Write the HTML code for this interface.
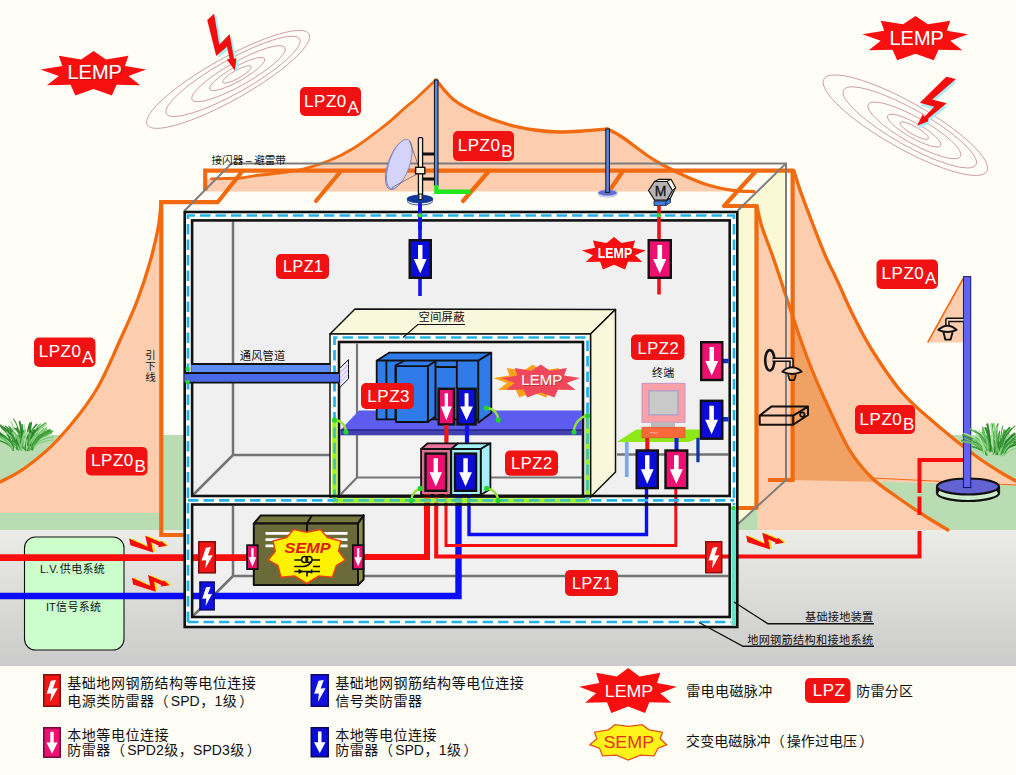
<!DOCTYPE html>
<html lang="zh">
<head>
<meta charset="utf-8">
<title>LPZ lightning protection zones</title>
<style>
html,body{margin:0;padding:0;background:#fefef6}
body{width:1016px;height:775px;overflow:hidden;font-family:"Liberation Sans","Noto Sans CJK SC",sans-serif}
svg{display:block}
svg text{font-family:"Liberation Sans","Noto Sans CJK SC",sans-serif}
</style>
</head>
<body>
<svg width="1016" height="775" viewBox="0 0 1016 775">
<defs>
<linearGradient id="gnd" x1="0" y1="0" x2="0" y2="1"><stop offset="0" stop-color="#ebebe7"/><stop offset="1" stop-color="#cbcbcb"/></linearGradient>
</defs>
<rect width="1016" height="775" fill="#fefef6"/>
<rect y="435" width="1016" height="96" fill="#b9dcb3"/>
<rect y="530" width="1016" height="137" fill="url(#gnd)"/>
<rect y="666" width="1016" height="109" fill="#fdfdf6"/>
<g fill="none" stroke="#c98f9c" stroke-width=".8"><ellipse cx="228.1" cy="79.4" rx="92.8" ry="21" transform="rotate(-29.3 228.1 79.4)"/><ellipse cx="233" cy="76.4" rx="76.4" ry="16.8" transform="rotate(-29.3 233 76.4)"/><ellipse cx="238.5" cy="73.7" rx="53.3" ry="11.8" transform="rotate(-29.3 238.5 73.7)"/><ellipse cx="237.2" cy="74" rx="31.4" ry="7.2" transform="rotate(-29.3 237.2 74)"/><ellipse cx="237" cy="74.4" rx="16.4" ry="4" transform="rotate(-29.3 237 74.4)"/></g>
<g fill="none" stroke="#c98f9c" stroke-width=".8"><ellipse cx="905.4" cy="125.2" rx="93.6" ry="23" transform="rotate(29.5 905.4 125.2)"/><ellipse cx="909.8" cy="127.4" rx="76" ry="18" transform="rotate(29.5 909.8 127.4)"/><ellipse cx="914.4" cy="130.4" rx="53" ry="12.8" transform="rotate(29.5 914.4 130.4)"/><ellipse cx="914.2" cy="130.6" rx="30.5" ry="7.5" transform="rotate(29.5 914.2 130.6)"/><ellipse cx="914.2" cy="130.6" rx="16.3" ry="4" transform="rotate(29.5 914.2 130.6)"/></g>
<polygon points="738,211 786,163.4 786,480 738,524" fill="#fbf8d6"/>
<path d="M161 203C160.55 207 160.13 217.17 158.3 227C156.47 236.83 153.47 249.83 150 262C146.53 274.17 142.33 287.33 137.5 300C132.67 312.67 128.08 322.67 121 338C113.92 353.33 105.58 375 95 392C84.42 409 69.17 427.33 57.5 440C45.83 452.67 34.58 461 25 468C15.42 475 4.17 479.67 0 482L0 513L161 513Z" fill="#fccdae" fill-opacity="1"/>
<path d="M206 179C211.67 178.83 232 178.53 240 178C248 177.47 247.5 176.63 254 175.8C260.5 174.97 270.67 174.17 279 173C287.33 171.83 295.67 170.83 304 168.8C312.33 166.77 320.67 164.27 329 160.8C337.33 157.33 345.67 153.13 354 148C362.33 142.87 372.75 134.67 379 130C385.25 125.33 387.33 123.53 391.5 120C395.67 116.47 399.83 112.42 404 108.8C408.17 105.18 412.33 102.05 416.5 98.3C420.67 94.55 425.75 89.35 429 86.3C432.25 83.25 434.83 81.05 436 80C439 83.33 446.83 94.33 454 100C461.17 105.67 470 109.92 479 114C488 118.08 498.67 121.83 508 124.5C517.33 127.17 526.67 128.75 535 130C543.33 131.25 550 131.83 558 132C566 132.17 574.75 131.5 583 131C591.25 130.5 603.42 129.33 607.5 129C609.67 130.17 616.25 133.33 620.5 136C624.75 138.67 628.42 141.67 633 145C637.58 148.33 643 152.67 648 156C653 159.33 657.17 161.83 663 165C668.83 168.17 675.5 171.67 683 175C690.5 178.33 699.67 182.45 708 185C716.33 187.55 725.33 189.2 733 190.3C740.67 191.4 750.5 191.38 754 191.6L736 191.5L206 191.5Z" fill="#fccdae" fill-opacity="1"/>
<path d="M757 206C757.83 209.5 759.33 218.5 762 227C764.67 235.5 769 245.5 773 257C777 268.5 781.67 283 786 296C790.33 309 794.67 322.67 799 335C803.33 347.33 807.5 358.83 812 370C816.5 381.17 819.75 388.67 826 402C832.25 415.33 841.83 437.33 849.5 450C857.17 462.67 864.08 470.17 872 478C879.92 485.83 888.17 490.67 897 497C905.83 503.33 916.5 510.5 925 516C933.5 521.5 944.17 527.67 948 530L757 530Z" fill="#fccdae" fill-opacity="1"/>
<path d="M794 171C795.08 174.4 797.5 182.9 800.5 191.4C803.5 199.9 807.92 211.4 812 222C816.08 232.6 820.83 245.33 825 255C829.17 264.67 832.33 270 837 280C841.67 290 847.17 303.33 853 315C858.83 326.67 863.83 337.08 872 350C880.17 362.92 891.17 380 902 392.5C912.83 405 924.92 414.58 937 425C949.08 435.42 964 447.17 974.5 455C985 462.83 993.08 467.67 1000 472C1006.92 476.33 1013.33 479.5 1016 481L1016 485L793 480Z" fill="#fccdae" fill-opacity="1"/>
<clipPath id="oz"><path d="M794 171C795.08 174.4 797.5 182.9 800.5 191.4C803.5 199.9 807.92 211.4 812 222C816.08 232.6 820.83 245.33 825 255C829.17 264.67 832.33 270 837 280C841.67 290 847.17 303.33 853 315C858.83 326.67 863.83 337.08 872 350C880.17 362.92 891.17 380 902 392.5C912.83 405 924.92 414.58 937 425C949.08 435.42 964 447.17 974.5 455C985 462.83 993.08 467.67 1000 472C1006.92 476.33 1013.33 479.5 1016 481L1016 485L793 480Z"/></clipPath>
<path d="M757 206C757.83 209.5 759.33 218.5 762 227C764.67 235.5 769 245.5 773 257C777 268.5 781.67 283 786 296C790.33 309 794.67 322.67 799 335C803.33 347.33 807.5 358.83 812 370C816.5 381.17 819.75 388.67 826 402C832.25 415.33 841.83 437.33 849.5 450C857.17 462.67 864.08 470.17 872 478C879.92 485.83 888.17 490.67 897 497C905.83 503.33 916.5 510.5 925 516C933.5 521.5 944.17 527.67 948 530L757 530Z" fill="#f0a264" clip-path="url(#oz)"/>
<g fill="none" stroke="#f26a10" stroke-width="3.3" stroke-linecap="round" stroke-linejoin="round">
<path d="M161 203C160.55 207 160.13 217.17 158.3 227C156.47 236.83 153.47 249.83 150 262C146.53 274.17 142.33 287.33 137.5 300C132.67 312.67 128.08 322.67 121 338C113.92 353.33 105.58 375 95 392C84.42 409 69.17 427.33 57.5 440C45.83 452.67 34.58 461 25 468C15.42 475 4.17 479.67 0 482"/>
<path d="M211.4 178.8C216.17 178.67 232.9 178.5 240 178C247.1 177.5 247.5 176.63 254 175.8C260.5 174.97 270.67 174.17 279 173C287.33 171.83 295.67 170.83 304 168.8C312.33 166.77 320.67 164.27 329 160.8C337.33 157.33 345.67 153.13 354 148C362.33 142.87 372.75 134.67 379 130C385.25 125.33 387.33 123.53 391.5 120C395.67 116.47 399.83 112.42 404 108.8C408.17 105.18 412.33 102.05 416.5 98.3C420.67 94.55 425.75 89.35 429 86.3C432.25 83.25 434.83 81.05 436 80" stroke-width="2.8"/>
<path d="M436 80C439 83.33 446.83 94.33 454 100C461.17 105.67 470 109.92 479 114C488 118.08 498.67 121.83 508 124.5C517.33 127.17 526.67 128.75 535 130C543.33 131.25 550 131.83 558 132C566 132.17 574.75 131.5 583 131C591.25 130.5 603.42 129.33 607.5 129"/>
<path d="M607.5 129C609.67 130.17 616.25 133.33 620.5 136C624.75 138.67 628.42 141.67 633 145C637.58 148.33 643 152.67 648 156C653 159.33 657.17 161.83 663 165C668.83 168.17 675.5 171.67 683 175C690.5 178.33 699.67 182.45 708 185C716.33 187.55 725.33 189.2 733 190.3C740.67 191.4 750.5 191.38 754 191.6"/>
<path d="M757 206C757.83 209.5 759.33 218.5 762 227C764.67 235.5 769 245.5 773 257C777 268.5 781.67 283 786 296C790.33 309 794.67 322.67 799 335C803.33 347.33 807.5 358.83 812 370C816.5 381.17 819.75 388.67 826 402C832.25 415.33 841.83 437.33 849.5 450C857.17 462.67 864.08 470.17 872 478C879.92 485.83 888.17 490.67 897 497C905.83 503.33 916.5 510.5 925 516C933.5 521.5 944.17 527.67 948 530"/>
<path d="M794 171C795.08 174.4 797.5 182.9 800.5 191.4C803.5 199.9 807.92 211.4 812 222C816.08 232.6 820.83 245.33 825 255C829.17 264.67 832.33 270 837 280C841.67 290 847.17 303.33 853 315C858.83 326.67 863.83 337.08 872 350C880.17 362.92 891.17 380 902 392.5C912.83 405 924.92 414.58 937 425C949.08 435.42 964 447.17 974.5 455C985 462.83 993.08 467.67 1000 472C1006.92 476.33 1013.33 479.5 1016 481"/>
<path d="M872 478L1016 485" stroke-width="1.1"/>
</g>
<g fill="none" stroke="#f26a10" stroke-width="4.2" stroke-linejoin="miter">
<path d="M205.2 190.7V170.7H794"/>
<path d="M242.5 171L217.7 202.2H161.3V535H184"/>
<path d="M341 171L316 201" stroke-linecap="round"/>
<path d="M489 171L463 201" stroke-linecap="round"/>
<path d="M623 171L608.5 192"/>
<path d="M756 171L724 206H756.5V508H738" stroke-linejoin="round"/>
<path d="M792.6 169V480H768" />
</g>
<g fill="none" stroke="#7d7d7d" stroke-width="2">
<path d="M184.5 210.7L231.5 163.4H786V480L738 524"/>
<path d="M786 163.4L737.6 210.7"/>
</g>
<rect x="184.7" y="212" width="552.6" height="415" fill="#fff"/>
<rect x="192.1" y="220.4" width="537.6" height="275.6" fill="#f0f0f0"/>
<rect x="192.1" y="504.5" width="537.6" height="112.5" fill="#f0f0f0"/>
<g fill="none" stroke="#747474" stroke-width="2.5">
<path d="M233 221.5V455H330M233 455L193 495"/>
<path d="M617 454.5H728.5"/>
<path d="M233 506V576H728.5M233 576L193 616"/>
</g>
<polygon points="330,334 355,309 615.5,309.5 590.5,334" fill="#faf8dc" stroke="#111" stroke-width="1.5" stroke-linejoin="round"/>
<polygon points="590.5,334 615.5,309.5 615.5,472 590.5,497" fill="#faf8dc" stroke="#111" stroke-width="1.5" stroke-linejoin="round"/>
<rect x="330" y="334" width="260.5" height="163" fill="#fff" stroke="#111" stroke-width="1.5"/>
<rect x="339" y="342" width="244" height="154" fill="#f3f3f3" stroke="#111" stroke-width="2.6"/>
<path d="M357 343.5V477.5H582M357 477.5L340.5 494.5" fill="none" stroke="#777" stroke-width="2.2"/>
<polygon points="359,410.5 582,410.5 582,430 340.5,430" fill="#5c5cee"/>
<rect x="340.3" y="429.7" width="241.6" height="5.6" fill="#4141b4"/>
<path d="M340.3 430H582" stroke="#15156a" stroke-width="1"/>
<g stroke="#111" stroke-width="1.8" stroke-linejoin="round">
<polygon points="376.7,360.7 389,352.7 491.3,352.7 478.2,360.7" fill="#2f7bea"/>
<polygon points="478.2,360.7 491.3,352.7 491.3,413 478.2,422.8" fill="#2f7bea"/>
<rect x="376.7" y="360.7" width="101.5" height="58.7" fill="#2f7bea"/>
<path d="M386.4 360.7V419.4M395.4 365.5V419.4M395.4 365.5L404.3 360.7" fill="none"/>
<path d="M435.4 360.7V419M456.8 360.7V388M435.4 367H456.8" fill="none"/>
<polygon points="427.8,366.2 435.4,360.9 435.4,416.5 427.8,422" fill="#2f7bea"/>
<rect x="396" y="366.2" width="31.8" height="55.8" fill="#2f7bea"/>
</g>
<rect x="438.7" y="388.8" width="15.3" height="35.6" fill="#ee1070" stroke="#111" stroke-width="2.4"/>
<polygon points="444.67,393.3 448.03,393.3 448.03,406.6 451.84,406.6 446.35,420.28 440.86,406.6 444.67,406.6" fill="#fff"/>
<rect x="457.5" y="388.8" width="18.1" height="35.6" fill="#0c0cd8" stroke="#111" stroke-width="2.4"/>
<polygon points="464.6,393.3 468.5,393.3 468.5,406.6 472.91,406.6 466.55,420.28 460.19,406.6 464.6,406.6" fill="#fff"/>
<path d="M446.4 425V450" stroke="#f01616" stroke-width="4.2"/>
<path d="M467 425V450" stroke="#1010f0" stroke-width="4.2"/>
<g stroke="#111" stroke-width="1.8" stroke-linejoin="round">
<polygon points="421.1,449 427.6,443.3 458,443.3 451.3,449" fill="#e8749c"/>
<polygon points="451.3,449 458,443.3 490.4,443.3 480.7,449" fill="#a4f2f8"/>
<polygon points="480.7,449 490.4,443.3 490.4,489 480.7,495" fill="#a4f2f8"/>
<rect x="421.1" y="449" width="29.8" height="46" fill="#d9708c"/>
<rect x="451.3" y="449" width="29.4" height="46" fill="#a4f2f8"/>
</g>
<rect x="425.5" y="453.6" width="20.6" height="37.2" fill="#ee1070" stroke="#111" stroke-width="2.4"/>
<polygon points="433.62,458.34 437.99,458.34 437.99,472.2 442.01,472.2 435.8,486.46 429.59,472.2 433.62,472.2" fill="#fff"/>
<rect x="455" y="453.6" width="21.1" height="37.2" fill="#0c0cd8" stroke="#111" stroke-width="2.4"/>
<polygon points="463.32,458.34 467.78,458.34 467.78,472.2 471.9,472.2 465.55,486.46 459.2,472.2 463.32,472.2" fill="#fff"/>
<rect x="24.5" y="537" width="99.5" height="113" rx="11" fill="#ccfecb" stroke="#111" stroke-width="1.1"/>
<g fill="none" stroke-linejoin="miter">
<path d="M0 557.6H247" stroke="#fa0d0d" stroke-width="6.6"/>
<path d="M0 596H458.5V494" stroke="#0c0cf6" stroke-width="6.4"/>
<path d="M364 557H427V494" stroke="#fa0d0d" stroke-width="6"/>
<path d="M436.2 494V556.5H919.5V531" stroke="#fa0d0d" stroke-width="4"/>
<path d="M919.5 515V496.5M919.5 493V460H964" stroke="#fa0d0d" stroke-width="4"/>
<path d="M446 494V545.5H675.8V488" stroke="#fa0d0d" stroke-width="3"/>
<path d="M469 494V534.5H646.5V488" stroke="#0c0cf6" stroke-width="3.4"/>
</g>
<path d="M184.7 540H192.1V612H184.7ZM729.7 545H737.3V570H729.7Z" fill="#fff"/>
<rect x="731.5" y="509" width="5" height="116" fill="#5fe6c4"/>
<rect x="184.7" y="212" width="552.6" height="415" fill="none" stroke="#111" stroke-width="2.6"/>
<path d="M334.5 419V500.5H587.5V414.5" fill="none" stroke="#a8f22c" stroke-width="4.6"/>
<g fill="none" stroke="#22b2e6" stroke-width="2.7" stroke-dasharray="10.5 5"><path d="M188 622V215.5H734V505"/><path d="M188 500.3H734"/><path d="M188 622H731"/><path d="M334.5 500V337.5H587.5V500"/></g>
<path d="M334.5 419V500.5H587.5V414.5" fill="none" stroke="#8cf01e" stroke-opacity=".3" stroke-width="3"/>
<rect x="192.1" y="220.4" width="537.6" height="275.6" fill="none" stroke="#111" stroke-width="2.6"/>
<rect x="192.1" y="504.5" width="537.6" height="112.5" fill="none" stroke="#111" stroke-width="2.6"/>
<rect x="191.2" y="364" width="139.2" height="9" fill="#5d8df2"/>
<rect x="184.4" y="373" width="155" height="9.6" fill="#4a69e6"/>
<path d="M191.2 364H330.4M184.4 373H339.4M184.4 382.6H339.4" stroke="#111" stroke-width="1.9" fill="none"/>
<polygon points="339.6,368.5 348.5,359.6 348.5,378.8 339.6,387.6" fill="#ebe8ff" stroke="#111" stroke-width="1"/>
<path d="M339.6 373.3L348.5 364.4M339.6 378L348.5 369.2M339.6 382.8L348.5 374" stroke="#b3acec" stroke-width=".9"/>
<g stroke="#111" stroke-width="2" stroke-linejoin="round">
<polygon points="253.8,523.6 260.8,515.4 363.6,515.4 358,523.6" fill="#78783e"/>
<polygon points="358,523.6 363.6,515.4 363.6,579.6 358,585" fill="#8e8e44"/>
<rect x="253.8" y="523.6" width="104.2" height="61.4" fill="#6b6b3a"/>
<path d="M307 523.6V532M307 523.6L311.8 515.4" fill="none"/>
</g>
<path d="M265.5 533.4H347.5M265.5 539.7H347.5M265.5 545.9H347.5" stroke="#fff" stroke-width="2.8"/>
<polygon points="268.2,560.1 275.3,551.2 273,541 286.8,537.5 293.4,529.5 307.1,532.2 320.4,529.5 327.5,537.5 340.8,541 338.6,551.2 345.2,560.1 336.4,565.4 332.4,577.3 318.7,576 306.7,583.5 294.7,576 281,577.3 277.9,565.4" fill="#fff200" stroke="#e8420e" stroke-width="1.5" stroke-linejoin="miter"/>
<text x="307.6" y="552.6" font-size="15.5" font-weight="bold" font-style="italic" fill="#e01a1a" text-anchor="middle" textLength="46" lengthAdjust="spacingAndGlyphs">SEMP</text>
<g fill="none" stroke="#111" stroke-width="1.5">
<path d="M294.3 559.9H301.5M312 559.9H320M294.3 566.6H303M313 566.6H320M294.3 571.4H320"/>
<circle cx="304.6" cy="559.6" r="3"/><circle cx="309" cy="559.6" r="3"/>
<path d="M311.6 561.5Q309 566 303 566.6"/>
<path d="M311.6 569.5V573.5M311.6 572H307V576.5" stroke-width="1.6"/>
<path d="M298.8 569.2L303 571.4L298.8 573.6Z" fill="#111" stroke-width=".5"/>
</g>
<rect x="247.1" y="545.2" width="10.6" height="23.9" fill="#ee1070" stroke="#111" stroke-width="1.8"/>
<polygon points="251.22,548.15 253.58,548.15 253.58,557.15 256.24,557.15 252.4,566.4 248.56,557.15 251.22,557.15" fill="#fff"/>
<rect x="352.9" y="545.2" width="10.5" height="23.9" fill="#ee1070" stroke="#111" stroke-width="1.8"/>
<polygon points="356.98,548.15 359.32,548.15 359.32,557.15 361.96,557.15 358.15,566.4 354.34,557.15 356.98,557.15" fill="#fff"/>
<rect x="198.8" y="541.8" width="16.4" height="31" fill="#f01616" stroke="#8a0f0f" stroke-width="1.6"/>
<polygon points="210.92,546.93 205.87,547.68 201.55,560.46 206.12,560.2 205.34,568.48 212.71,555.18 207.88,555.44" fill="#fff"/>
<rect x="200" y="582.1" width="14.1" height="27.7" fill="#1010e2" stroke="#0a0a70" stroke-width="1.6"/>
<polygon points="210.47,586.63 206.06,587.31 202.29,598.79 206.28,598.56 205.61,606 212.03,594.05 207.82,594.28" fill="#fff"/>
<rect x="705.8" y="541.8" width="15.9" height="30.9" fill="#f01616" stroke="#8a0f0f" stroke-width="1.6"/>
<polygon points="717.57,546.91 712.65,547.66 708.45,560.4 712.89,560.14 712.14,568.4 719.3,555.14 714.61,555.4" fill="#fff"/>
<rect x="434.4" y="80" width="3.6" height="105.5" fill="#5a86ea" stroke="#111" stroke-width="1"/>
<path d="M436.4 185V191.8H470.4" fill="none" stroke="#1fe81f" stroke-width="4.4"/>
<ellipse cx="398.3" cy="165" rx="10.3" ry="25.8" transform="rotate(19 398.3 165)" fill="#c4c4ee" stroke="#7f7fb8" stroke-width=".9"/>
<ellipse cx="399.3" cy="164" rx="10.3" ry="25.8" transform="rotate(19 399.3 164)" fill="#d4d4fb" stroke="#8585bd" stroke-width=".9"/>
<path d="M409.5 141L418.5 166M392 187.5L417 174" stroke="#555" stroke-width=".7" fill="none"/>
<path d="M418.9 154H434.6M418.9 179H434.6" stroke="#111" stroke-width="2.8"/>
<rect x="418.4" y="137.6" width="4.2" height="61" rx="1" fill="#fbe9d4" stroke="#111" stroke-width="1.3"/>
<rect x="415.6" y="167.3" width="9.2" height="6.5" fill="#fbeedc" stroke="#111" stroke-width="1.4"/>
<path d="M420 199V230" stroke="#1212e6" stroke-width="3.6"/>
<ellipse cx="420" cy="201.2" rx="12.6" ry="3.8" fill="#fff" stroke="#0c2c80" stroke-width=".8"/>
<ellipse cx="420" cy="199" rx="13" ry="4" fill="#0f3a9c" stroke="#0c1c60" stroke-width=".6"/>
<rect x="419" y="194" width="3" height="5.6" fill="#fbe9d4" stroke="#111" stroke-width=".9"/>
<ellipse cx="607.6" cy="194.3" rx="9.3" ry="2.8" fill="#fff" stroke="#a9afdd" stroke-width=".8"/>
<ellipse cx="607.6" cy="192.8" rx="9.5" ry="2.9" fill="#5b6fd2" stroke="#8d96d6" stroke-width=".7"/>
<rect x="605.8" y="129" width="3.6" height="63.4" fill="#5a86ea" stroke="#111" stroke-width="1"/>
<polygon points="654,201 665.8,201 670.5,198.5 670.5,202.5 665.8,205.5 654,205.5" fill="#3f7be0" stroke="#123" stroke-width=".8"/>
<path d="M665.8 201V205.5" stroke="#123" stroke-width=".8"/>
<polygon points="654.5,181.5 659,179.3 671,179.3 675.6,187.5 670.5,198 667,200 654.5,200" fill="#fbf8ea" stroke="#111" stroke-width="1.2" stroke-linejoin="round"/>
<path d="M667 181.5L671 179.3M672.5 190.5L675.6 187.5" stroke="#111" stroke-width="1"/>
<polygon points="648.5,190.5 654.5,181.5 667,181.5 672.5,190.5 667,200 654.5,200" fill="#b4b4b4" stroke="#111" stroke-width="1.2" stroke-linejoin="round"/>
<text x="660.5" y="196.2" font-size="14" text-anchor="middle" fill="#111" stroke="#111" stroke-width=".3">M</text>
<path d="M420 203V296" stroke="#1212e6" stroke-width="3.6"/>
<path d="M659 205.5V294.5" stroke="#f01212" stroke-width="3.6"/>
<circle cx="420" cy="215.3" r="2.2" fill="#35d935"/><circle cx="659" cy="215.3" r="2.2" fill="#35d935"/>
<rect x="409.7" y="240.2" width="21.1" height="37.6" fill="#0c0cd8" stroke="#111" stroke-width="2.4"/>
<polygon points="418.02,245 422.48,245 422.48,259 426.6,259 420.25,273.4 413.9,259 418.02,259" fill="#fff"/>
<rect x="648.7" y="240.2" width="22.1" height="37.6" fill="#ee1070" stroke="#111" stroke-width="2.4"/>
<polygon points="657.42,245 662.08,245 662.08,259 666.37,259 659.75,273.4 653.13,259 657.42,259" fill="#fff"/>
<polygon points="636.2,429.5 699.7,429.5 699.7,437.8 688.7,442 616.9,442" fill="#8fe81a"/>
<rect x="624.9" y="442" width="3.7" height="35" fill="#7aa9f0"/>
<rect x="696.3" y="437.8" width="3.3" height="24.4" fill="#16389e"/>
<rect x="642" y="383.3" width="43" height="39" fill="#f8a1a9" stroke="#c38fc0" stroke-width=".9"/>
<rect x="649" y="390.9" width="29" height="24" fill="#c9c9c9" stroke="#9494d2" stroke-width=".9"/>
<rect x="651" y="422.4" width="24" height="5" fill="#bababa"/>
<rect x="642" y="427.3" width="43" height="10.5" fill="#f86a3a" stroke="#d9552c" stroke-width=".8"/>
<path d="M650 432.7H657.6" stroke="#f6a0a0" stroke-width="1.2"/>
<path d="M647.3 438V450" stroke="#f01212" stroke-width="4"/>
<path d="M676.5 438V450" stroke="#1220d8" stroke-width="4"/>
<rect x="636.7" y="450.5" width="21.1" height="37.6" fill="#0c0cd8" stroke="#111" stroke-width="2.4"/>
<polygon points="645.02,455.3 649.48,455.3 649.48,469.3 653.6,469.3 647.25,483.7 640.9,469.3 645.02,469.3" fill="#fff"/>
<rect x="665.5" y="450.5" width="21.7" height="37.6" fill="#ee1070" stroke="#111" stroke-width="2.4"/>
<polygon points="674.06,455.3 678.64,455.3 678.64,469.3 682.86,469.3 676.35,483.7 669.84,469.3 674.06,469.3" fill="#fff"/>
<path d="M723 361H728.6M723 419.2H728.6" stroke="#1030c4" stroke-width="4.4"/>
<rect x="701.2" y="342.2" width="21.1" height="37.8" fill="#ee1070" stroke="#111" stroke-width="2.4"/>
<polygon points="709.52,347.03 713.98,347.03 713.98,361.1 718.1,361.1 711.75,375.57 705.4,361.1 709.52,361.1" fill="#fff"/>
<rect x="700.9" y="400.8" width="21.4" height="37.9" fill="#0c0cd8" stroke="#111" stroke-width="2.4"/>
<polygon points="709.34,405.65 713.86,405.65 713.86,419.75 718.03,419.75 711.6,434.26 705.17,419.75 709.34,419.75" fill="#fff"/>
<path d="M334.5 420A12 12 0 0 1 346 432" fill="none" stroke="#93e332" stroke-width="2.3"/>
<circle cx="334.5" cy="420" r="2.6" fill="#22d62c"/><circle cx="346" cy="432" r="2.6" fill="#22d62c"/>
<path d="M486.2 408A12 12 0 0 1 498.2 420" fill="none" stroke="#93e332" stroke-width="2.3"/>
<circle cx="486.2" cy="408" r="2.6" fill="#22d62c"/><circle cx="498.2" cy="420" r="2.6" fill="#22d62c"/>
<path d="M587.5 415.5A16.5 16.5 0 0 0 574 432" fill="none" stroke="#93e332" stroke-width="2.3"/>
<circle cx="587.5" cy="415.5" r="2.6" fill="#22d62c"/><circle cx="574" cy="432" r="2.6" fill="#22d62c"/>
<path d="M420.2 488.4A12.2 12.2 0 0 0 411.5 500.6" fill="none" stroke="#93e332" stroke-width="2.3"/>
<circle cx="420.2" cy="488.4" r="2.6" fill="#22d62c"/><circle cx="411.5" cy="500.6" r="2.6" fill="#22d62c"/>
<path d="M486.6 488.4A12.2 12.2 0 0 1 498 500.6" fill="none" stroke="#93e332" stroke-width="2.3"/>
<circle cx="486.6" cy="488.4" r="2.6" fill="#22d62c"/><circle cx="498" cy="500.6" r="2.6" fill="#22d62c"/>
<circle cx="187.6" cy="369" r="2.3" fill="#2fd43a"/><circle cx="187.6" cy="382" r="2.3" fill="#2fd43a"/>
<circle cx="733.5" cy="508" r="2.3" fill="#2fd43a"/>
<g fill="none" stroke="#111" stroke-width="2" stroke-linejoin="round">
<ellipse cx="769.8" cy="360.3" rx="4.6" ry="10.2" stroke-width="2.6"/>
<path d="M772.5 359.8H791.5V368" stroke-width="4.6"/>
<path d="M772.5 359.8H791.5V368" stroke="#fbd9c4" stroke-width="1.5"/>
<path d="M782.3 371.6Q792 363 801.7 371.6Q792 376.4 782.3 371.6Z" stroke-width="1.8" fill="#fbd9c4"/>
<path d="M788 374.4L789.8 380.2H794.2L796 374.4" stroke-width="1.7"/>
<path d="M759.7 415.6H793.2V424.7H759.7ZM759.7 415.6L771.3 406.6H808L793.2 415.6M808 406.6V415L793.2 424.7" stroke-width="2"/>
<circle cx="802.3" cy="414.6" r="2.2" stroke-width="1.7"/>
</g>
<polygon points="963.2,278.5 927.7,342.4 963.2,342.4" fill="#fccdae" fill-opacity="1"/>
<path d="M963.2 278.5L927.7 342.4" stroke="#f26a10" stroke-width="1.6"/>
<ellipse cx="968" cy="493" rx="31" ry="8" fill="#cdeccb" stroke="#111" stroke-width="2.2"/>
<path d="M937 486.5V493M999 486.5V493" stroke="#111" stroke-width="2.2"/>
<ellipse cx="968" cy="486.5" rx="31" ry="8" fill="#6262d0" stroke="#111" stroke-width="2.2"/>
<rect x="963.4" y="276.6" width="7.4" height="211" fill="#6262f0" stroke="#0c0c50" stroke-width=".9"/>
<g fill="none" stroke="#111" stroke-width="1.9" stroke-linejoin="round">
<path d="M963 319.9H947.4V326.5" stroke-width="4.6"/><path d="M963.5 319.9H947.4V326.5" stroke="#fbd9c4" stroke-width="1.6"/>
<path d="M938.3 329.8Q947.5 321.5 956.6 329.8Q947.5 334.2 938.3 329.8Z" fill="#fbd9c4"/>
<path d="M943.5 332.3L945.3 339.6H950.6L952.6 332.3"/>
</g>
<g fill="none" stroke-linecap="round"><path d="M17.64 446.92Q15.11 434.25 7.01 428.82" stroke="#3f9e38" stroke-width="1.51"/><path d="M32.64 446.24Q36 438.68 46.76 435.43" stroke="#6ec264" stroke-width="1.44"/><path d="M24.61 445.6Q26.39 436.23 32.09 432.21" stroke="#5cb552" stroke-width="1.77"/><path d="M24.02 448.68Q24.86 440.58 27.56 437.1" stroke="#2e8b2e" stroke-width="1.2"/><path d="M13.01 449.8Q9.28 437.62 -2.68 432.4" stroke="#2a7f2a" stroke-width="1.61"/><path d="M32.92 445.58Q37.34 436.74 51.5 432.95" stroke="#5cb552" stroke-width="1.78"/><path d="M14.5 443.26Q10.29 429.58 -3.19 423.71" stroke="#2a7f2a" stroke-width="1.68"/><path d="M31.44 445.81Q35.48 435.37 48.41 430.9" stroke="#2a7f2a" stroke-width="1.48"/><path d="M32.54 448.15Q37.33 436.34 52.65 431.28" stroke="#5cb552" stroke-width="1.6"/><path d="M19.62 446.89Q18.55 438.46 15.14 434.84" stroke="#86cf7c" stroke-width="1.53"/><path d="M34.41 444.43Q36.74 432.82 44.18 427.85" stroke="#6ec264" stroke-width="0.99"/><path d="M30.22 445.72Q31.2 434.86 34.32 430.21" stroke="#2a7f2a" stroke-width="1.77"/><path d="M13.31 447.55Q8.02 437.58 -8.91 433.31" stroke="#3c9a3c" stroke-width="1.45"/><path d="M32.93 444.54Q35.18 437.74 42.36 434.82" stroke="#2e8b2e" stroke-width="0.98"/><path d="M25.73 442.32Q25.33 429.43 24.06 423.91" stroke="#a9dfa0" stroke-width="1.06"/><path d="M13.27 449.82Q9.01 436.28 -4.63 430.48" stroke="#2a7f2a" stroke-width="1.28"/><path d="M31.77 445.5Q36.05 434.43 49.76 429.69" stroke="#3f9e38" stroke-width="1.52"/><path d="M33.35 446.58Q36.5 433.55 46.56 427.96" stroke="#86cf7c" stroke-width="1.84"/><path d="M22.1 444.35Q20.85 433.22 16.87 428.44" stroke="#2a7f2a" stroke-width="1.89"/><path d="M19.36 445.41Q18.27 436.64 14.79 432.87" stroke="#3c9a3c" stroke-width="1.37"/><path d="M27.51 445.2Q29.7 430.6 36.7 424.35" stroke="#2e8b2e" stroke-width="1.49"/><path d="M33.67 442.23Q36.68 429.94 46.33 424.68" stroke="#a9dfa0" stroke-width="1.49"/><path d="M19.48 445.3Q17.36 434.71 10.58 430.17" stroke="#a9dfa0" stroke-width="1.2"/><path d="M20.75 448.96Q17.97 436.98 9.07 431.84" stroke="#5cb552" stroke-width="1.21"/><path d="M17.3 449.24Q14.14 441.55 4.03 438.25" stroke="#2a7f2a" stroke-width="1.55"/><path d="M14.49 447.42Q13.11 432.41 8.69 425.98" stroke="#86cf7c" stroke-width="1.34"/><path d="M31.45 443.56Q33.57 429.84 40.35 423.96" stroke="#6ec264" stroke-width="1.17"/><path d="M29.92 442.34Q33.91 434.19 46.69 430.7" stroke="#5cb552" stroke-width="1.76"/><path d="M19.92 449.46Q17.08 437.03 7.99 431.71" stroke="#5cb552" stroke-width="1.32"/><path d="M23.91 449.66Q23.92 433.3 23.94 426.29" stroke="#a9dfa0" stroke-width="1.32"/><path d="M21.48 450.29Q19.45 443.69 12.94 440.87" stroke="#2a7f2a" stroke-width="1.46"/><path d="M34.36 448.47Q36.31 436.71 42.55 431.67" stroke="#a9dfa0" stroke-width="1.44"/><path d="M32.21 449.76Q36.62 436.35 50.7 430.61" stroke="#3f9e38" stroke-width="1.71"/><path d="M13.33 450.14Q10.56 434.45 1.69 427.73" stroke="#2a7f2a" stroke-width="1.48"/><path d="M12.61 448.72Q7.58 441.72 -8.55 438.71" stroke="#2e8b2e" stroke-width="1.42"/><path d="M21.57 450.45Q21.34 438.26 20.59 433.04" stroke="#a9dfa0" stroke-width="1.87"/><path d="M24.42 449.31Q23.04 439.72 18.62 435.61" stroke="#3f9e38" stroke-width="1.43"/><path d="M30.58 443.57Q34.16 429.24 45.62 423.1" stroke="#5cb552" stroke-width="1.72"/><path d="M12.49 447.67Q10.08 440.83 2.37 437.9" stroke="#a9dfa0" stroke-width="1.15"/><path d="M26.14 446.7Q25.32 435.33 22.68 430.46" stroke="#2e8b2e" stroke-width="1.76"/><path d="M29.65 442.45Q30.04 428.58 31.29 422.63" stroke="#2e8b2e" stroke-width="1.75"/><path d="M14.25 446.54Q10.33 438.32 -2.2 434.79" stroke="#3c9a3c" stroke-width="1.29"/><path d="M21.03 444.76Q19.27 426.68 13.62 419" stroke="#2a7f2a" stroke-width="1.02"/><path d="M24.74 448.46Q24.71 439.57 24.6 435.76" stroke="#5cb552" stroke-width="0.94"/><path d="M22.62 447.87Q22.48 431.66 22.02 424.72" stroke="#2e8b2e" stroke-width="1.52"/><path d="M21.97 445.38Q21.43 428.86 19.68 421.78" stroke="#2a7f2a" stroke-width="1.85"/><path d="M21.67 442.2Q19.95 432.34 14.44 428.11" stroke="#3f9e38" stroke-width="1.7"/><path d="M17.34 443.21Q13.38 434.93 0.71 431.38" stroke="#a9dfa0" stroke-width="1.02"/><path d="M27.76 450.45Q30.13 434.91 37.72 428.25" stroke="#2a7f2a" stroke-width="1.57"/><path d="M28.73 447.09Q29 431.7 29.87 425.11" stroke="#2e8b2e" stroke-width="1.37"/><path d="M17.6 445.52Q15.66 432.53 9.46 426.96" stroke="#2a7f2a" stroke-width="1.08"/><path d="M12.85 449.58Q7.69 438.44 -8.8 433.67" stroke="#6ec264" stroke-width="1.74"/><path d="M33.62 447.23Q38.27 442.06 53.18 439.84" stroke="#86cf7c" stroke-width="1.01"/><path d="M29.07 450.41Q29.3 438.44 30.03 433.31" stroke="#5cb552" stroke-width="1.73"/><path d="M17.73 443.65Q14.77 431.42 5.29 426.18" stroke="#2a7f2a" stroke-width="1.15"/><path d="M25.72 450.45Q26.71 431.3 29.88 423.09" stroke="#2a7f2a" stroke-width="1.4"/><path d="M34.08 445.74Q38.7 439.5 53.48 436.83" stroke="#6ec264" stroke-width="1.06"/><path d="M21.29 449.99Q19.22 437.91 12.59 432.73" stroke="#6ec264" stroke-width="1.82"/><path d="M23.89 446.01Q24.87 436.49 28 432.42" stroke="#a9dfa0" stroke-width="1.65"/><path d="M15.6 446.66Q14.54 429.03 11.17 421.47" stroke="#a9dfa0" stroke-width="1.57"/><path d="M31.44 447.37Q34.52 431.59 44.37 424.82" stroke="#86cf7c" stroke-width="1.21"/><path d="M18.31 449.24Q15.36 437.47 5.91 432.43" stroke="#86cf7c" stroke-width="1.22"/><path d="M29.63 443.33Q33.65 433.72 46.53 429.6" stroke="#86cf7c" stroke-width="1.37"/><path d="M30.98 449.4Q33.79 438.37 42.79 433.64" stroke="#3f9e38" stroke-width="1.76"/><path d="M21.27 448.61Q22.28 435.65 25.51 430.1" stroke="#86cf7c" stroke-width="1.79"/><path d="M26.81 449Q26.3 438.7 24.63 434.28" stroke="#a9dfa0" stroke-width="1.14"/><path d="M16.56 444.36Q12.95 432.14 1.39 426.9" stroke="#2e8b2e" stroke-width="1.8"/><path d="M18.02 449.79Q15.4 439.15 7.03 434.58" stroke="#3f9e38" stroke-width="1.02"/><path d="M18.23 450.23Q14.61 440.41 3.02 436.2" stroke="#3c9a3c" stroke-width="0.91"/><path d="M19.81 445.95Q18.47 436.44 14.21 432.37" stroke="#6ec264" stroke-width="1.29"/></g>
<g fill="none" stroke-linecap="round"><path d="M989.97 448.39Q989.17 440.14 986.62 436.6" stroke="#3f9e38" stroke-width="1.27"/><path d="M983.89 451.59Q978.55 443.72 961.49 440.34" stroke="#3f9e38" stroke-width="1.14"/><path d="M995.17 447.57Q995.83 428.08 997.95 424" stroke="#2e8b2e" stroke-width="1.48"/><path d="M991.64 455.79Q989.02 440.44 980.66 433.86" stroke="#a9dfa0" stroke-width="1.32"/><path d="M994.93 452.16Q995.49 435.91 997.29 428.94" stroke="#3f9e38" stroke-width="1.48"/><path d="M997.18 450.38Q998.47 442.58 1002.59 439.24" stroke="#2e8b2e" stroke-width="1.52"/><path d="M993.92 451.8Q994.99 438.91 998.41 433.38" stroke="#6ec264" stroke-width="1.26"/><path d="M988.24 448.65Q987.36 440.34 984.53 436.78" stroke="#a9dfa0" stroke-width="1.43"/><path d="M1002.58 453.58Q1004.71 436.12 1011.53 428.65" stroke="#3f9e38" stroke-width="1.41"/><path d="M986.33 450.1Q985.4 437.6 982.4 432.25" stroke="#3f9e38" stroke-width="1.66"/><path d="M995.67 454.88Q995.51 437.92 995 430.65" stroke="#6ec264" stroke-width="1.48"/><path d="M993 454.57Q994.41 441.95 998.94 436.55" stroke="#3f9e38" stroke-width="0.96"/><path d="M998.61 452.84Q1002.16 439.28 1013.51 433.47" stroke="#a9dfa0" stroke-width="1.62"/><path d="M1002.86 450.15Q1007.67 442.36 1023.06 439.02" stroke="#3f9e38" stroke-width="1.39"/><path d="M987.55 449.62Q986.26 437.78 982.14 432.71" stroke="#6ec264" stroke-width="0.98"/><path d="M992.84 451.96Q993.95 434.78 997.52 427.42" stroke="#a9dfa0" stroke-width="1.61"/><path d="M1005.13 453.16Q1008.51 445.16 1019.32 441.73" stroke="#3f9e38" stroke-width="1.08"/><path d="M987.87 449.13Q985.68 436.11 978.7 430.53" stroke="#a9dfa0" stroke-width="1.18"/><path d="M985.89 451.83Q983.52 441.99 975.93 437.78" stroke="#5cb552" stroke-width="1.59"/><path d="M994.35 452.57Q995.17 444.57 997.8 441.14" stroke="#2a7f2a" stroke-width="1.3"/><path d="M991.58 451.35Q990.34 441.97 986.4 437.95" stroke="#86cf7c" stroke-width="1.34"/><path d="M985.08 452.42Q980.41 442.7 965.49 438.53" stroke="#3f9e38" stroke-width="1.85"/><path d="M996.6 447.67Q996.35 435.04 995.53 429.62" stroke="#a9dfa0" stroke-width="1.86"/><path d="M996.34 451.29Q995.63 437.71 993.34 431.88" stroke="#6ec264" stroke-width="1.38"/><path d="M989.7 448.33Q989.19 431.25 987.59 424" stroke="#6ec264" stroke-width="1.73"/><path d="M986.25 447.25Q985.36 433.37 982.49 427.42" stroke="#5cb552" stroke-width="1.59"/><path d="M1003.48 453.83Q1005.96 440.6 1013.89 434.93" stroke="#3f9e38" stroke-width="1.6"/><path d="M988.53 450.33Q985.32 436.76 975.05 430.95" stroke="#3c9a3c" stroke-width="1.54"/><path d="M996.59 454.1Q998.51 445.24 1004.65 441.44" stroke="#86cf7c" stroke-width="1.72"/><path d="M999.49 449.07Q1001.46 438.43 1007.76 433.87" stroke="#2e8b2e" stroke-width="1.89"/><path d="M1000.64 451.27Q1001.72 436.68 1005.19 430.42" stroke="#3c9a3c" stroke-width="1.35"/><path d="M1004 455.89Q1009.26 448.49 1026.1 445.31" stroke="#86cf7c" stroke-width="1"/><path d="M993.32 450.07Q993.01 429.5 992.03 424" stroke="#2e8b2e" stroke-width="1.38"/><path d="M997.5 454.2Q997.07 438.06 995.68 431.14" stroke="#2a7f2a" stroke-width="1.68"/><path d="M999.72 451.32Q1000.43 433.92 1002.7 426.46" stroke="#3c9a3c" stroke-width="0.99"/><path d="M1004.21 453.51Q1007.6 440.48 1018.44 434.9" stroke="#3f9e38" stroke-width="1.62"/><path d="M986.45 448.18Q982.45 434.53 969.67 428.69" stroke="#5cb552" stroke-width="1.51"/><path d="M996.19 451.29Q998.69 443.32 1006.66 439.91" stroke="#5cb552" stroke-width="0.92"/><path d="M1000.85 453.55Q1001.65 436.77 1004.2 429.58" stroke="#5cb552" stroke-width="1.33"/><path d="M1002.51 454.44Q1004.31 444.82 1010.07 440.7" stroke="#a9dfa0" stroke-width="1.4"/><path d="M1000.03 449.96Q1002.3 434.34 1009.54 427.65" stroke="#2e8b2e" stroke-width="1.81"/><path d="M990.65 451.15Q989.83 432.47 987.18 424.46" stroke="#2a7f2a" stroke-width="1.73"/><path d="M1002.65 448.21Q1004.27 435.4 1009.44 429.91" stroke="#6ec264" stroke-width="1.68"/><path d="M996.48 453.99Q995.96 444.66 994.27 440.66" stroke="#3f9e38" stroke-width="1.46"/><path d="M990.02 451.68Q988.86 435 985.15 427.85" stroke="#3f9e38" stroke-width="1.78"/><path d="M983.86 448.75Q978.54 443.48 961.5 441.21" stroke="#6ec264" stroke-width="1.46"/><path d="M999.95 455.22Q1001.78 441.49 1007.65 435.61" stroke="#86cf7c" stroke-width="1.59"/><path d="M992.91 451.82Q992.45 432.08 990.96 424" stroke="#a9dfa0" stroke-width="1.82"/><path d="M1002.99 448.86Q1005.89 438.52 1015.18 434.09" stroke="#2a7f2a" stroke-width="1.34"/><path d="M984.22 449.2Q979.14 439.16 962.9 434.85" stroke="#3f9e38" stroke-width="1.8"/><path d="M986.09 453.46Q983.99 445.33 977.26 441.84" stroke="#5cb552" stroke-width="1.87"/><path d="M987.58 455.57Q984.96 444.19 976.56 439.31" stroke="#86cf7c" stroke-width="1.06"/><path d="M992.43 451.66Q991.25 442.17 987.48 438.1" stroke="#3c9a3c" stroke-width="0.99"/><path d="M990.93 450.07Q989.71 434.46 985.79 427.78" stroke="#2a7f2a" stroke-width="1.23"/><path d="M996.84 451.63Q996.09 431.8 993.71 424" stroke="#86cf7c" stroke-width="1.87"/><path d="M984.96 449.42Q980 438.32 964.15 433.57" stroke="#a9dfa0" stroke-width="1.66"/><path d="M1001.32 454.65Q1004.55 439.38 1014.88 432.83" stroke="#2a7f2a" stroke-width="1.05"/><path d="M1003.59 452.15Q1007.7 446.07 1020.87 443.46" stroke="#2e8b2e" stroke-width="1.7"/><path d="M986.75 455.06Q983.33 449.19 972.38 446.68" stroke="#3f9e38" stroke-width="1.7"/><path d="M984.48 454.71Q979.46 443.03 963.42 438.02" stroke="#6ec264" stroke-width="0.91"/><path d="M1005.31 450.78Q1010.87 441.75 1028.66 437.88" stroke="#2e8b2e" stroke-width="1.43"/><path d="M988.02 448.02Q984.6 441.82 973.68 439.16" stroke="#86cf7c" stroke-width="1.83"/><path d="M996.94 451.8Q996.8 438.13 996.33 432.27" stroke="#5cb552" stroke-width="1.17"/><path d="M1000.95 455.95Q1001.52 448.23 1003.35 444.92" stroke="#86cf7c" stroke-width="1.41"/><path d="M988.18 451.05Q986.79 436.3 982.35 429.98" stroke="#6ec264" stroke-width="1.45"/><path d="M1002.89 455.73Q1005.21 446.98 1012.63 443.23" stroke="#86cf7c" stroke-width="1.24"/><path d="M1001.6 453.37Q1004.77 443.44 1014.92 439.19" stroke="#3c9a3c" stroke-width="1.88"/><path d="M1001.71 447.17Q1004.88 432.45 1015.01 426.15" stroke="#2a7f2a" stroke-width="1.06"/><path d="M984.49 454.58Q982.67 440.17 976.83 434" stroke="#a9dfa0" stroke-width="1.5"/><path d="M998.41 447.45Q998.69 436.24 999.58 431.44" stroke="#2e8b2e" stroke-width="1.16"/></g>
<polygon points="209.6,21.8 216.5,15.6 221.7,46.6 232,35.7 236.4,60.5 238.9,60 237.2,72.4 229.2,61.3 232,60.7 229.4,48.6 218.6,57.9" fill="#a9eef4"/>
<polygon points="207.2,20 214.1,13.8 219.3,44.8 229.6,33.9 234,58.7 236.5,58.2 234.8,70.6 226.8,59.5 229.6,58.9 227,46.8 216.2,56.1" fill="#f40d0d"/>
<polygon points="947.1,79.7 956.8,82.1 933,102.4 947.5,106.3 929.3,121.3 928.7,124.6 917.8,128.8 923.5,117.2 925.2,119.7 935.1,109.8 920.7,105.7" fill="#a9eef4"/>
<polygon points="946.3,76.7 956,79.1 932.2,99.4 946.7,103.3 928.5,118.3 927.9,121.6 917,125.8 922.7,114.2 924.4,116.7 934.3,106.8 919.9,102.7" fill="#f40d0d"/>
<polygon points="131.33,538.19 149.88,546.61 147.44,535.5 162.92,542.09 162.92,540.38 169.17,545.63 160.27,546.97 160.8,545.39 153.49,542.09 155.29,552.22 132.6,545.02" fill="#ffe81a"/>
<polygon points="129.13,538.39 147.68,546.81 145.24,535.7 160.72,542.29 160.72,540.58 166.97,545.83 158.07,547.17 158.6,545.59 151.29,542.29 153.09,552.42 130.4,545.22" fill="#f40d0d"/>
<polygon points="134.03,577.49 152.58,585.91 150.14,574.8 165.62,581.39 165.62,579.68 171.87,584.93 162.97,586.27 163.5,584.69 156.19,581.39 157.99,591.52 135.3,584.32" fill="#ffe81a"/>
<polygon points="131.83,577.69 150.38,586.11 147.94,575 163.42,581.59 163.42,579.88 169.67,585.13 160.77,586.47 161.3,584.89 153.99,581.59 155.79,591.72 133.1,584.52" fill="#f40d0d"/>
<polygon points="748.33,535.19 766.88,543.61 764.44,532.5 779.92,539.09 779.92,537.38 786.17,542.63 777.27,543.97 777.8,542.39 770.49,539.09 772.29,549.22 749.6,542.02" fill="#ffe81a"/>
<polygon points="746.13,535.39 764.68,543.81 762.24,532.7 777.72,539.29 777.72,537.58 783.97,542.83 775.07,544.17 775.6,542.59 768.29,539.29 770.09,549.42 747.4,542.22" fill="#f40d0d"/>
<polygon points="40.5,69.4 62.3,65.9 58.8,55.8 81.2,59.4 93.6,51.1 106,59.4 128.4,55.8 124.9,65.9 146.2,69.4 128.4,75.9 140.3,85.3 116.6,84.8 111.9,95.4 93.6,88.9 75.3,95.4 70.6,84.8 46.9,85.3 58.8,75.9" fill="#f80f0f"/>
<text x="95.5" y="80" font-size="20" text-anchor="middle" fill="#5a0000" fill-opacity=".4">LEMP</text>
<text x="94.7" y="79.2" font-size="20" text-anchor="middle" fill="#fff" stroke="#fff" stroke-width="0.12">LEMP</text>
<polygon points="862.4,34.3 884.2,30.8 880.7,20.7 903.1,24.3 915.5,16 927.9,24.3 950.3,20.7 946.8,30.8 968.1,34.3 950.3,40.8 962.2,50.2 938.5,49.7 933.8,60.3 915.5,53.8 897.2,60.3 892.5,49.7 868.8,50.2 880.7,40.8" fill="#f80f0f"/>
<text x="917.5" y="45.4" font-size="20" text-anchor="middle" fill="#5a0000" fill-opacity=".4">LEMP</text>
<text x="916.7" y="44.6" font-size="20" text-anchor="middle" fill="#fff" stroke="#fff" stroke-width="0.12">LEMP</text>
<polygon points="581.87,250.44 595.06,247.87 592.95,240.46 606.5,243.1 614,237.01 621.5,243.1 635.05,240.46 632.94,247.87 645.82,250.44 635.05,255.21 642.25,262.11 627.91,261.74 625.07,269.52 614,264.75 602.93,269.52 600.09,261.74 585.75,262.11 592.95,255.21" fill="#f80f0f"/>
<text x="615.8" y="258.4" font-size="14" text-anchor="middle" fill="#5a0000" fill-opacity=".4" font-weight="bold" textLength="34.5" lengthAdjust="spacingAndGlyphs">LEMP</text>
<text x="615" y="257.6" font-size="14" text-anchor="middle" fill="#fff" stroke="#fff" stroke-width="0" font-weight="bold" textLength="34.5" lengthAdjust="spacingAndGlyphs">LEMP</text>
<polygon points="493.13,378.09 509.42,375.49 506.8,367.96 523.54,370.64 532.8,364.46 542.06,370.64 558.8,367.96 556.18,375.49 572.09,378.09 558.8,382.94 567.68,389.94 549.98,389.57 546.47,397.46 532.8,392.62 519.13,397.46 515.62,389.57 497.92,389.94 506.8,382.94" fill="#f8a11a"/>
<polygon points="501.13,378.09 517.42,375.49 514.8,367.96 531.54,370.64 540.8,364.46 550.06,370.64 566.8,367.96 564.18,375.49 580.09,378.09 566.8,382.94 575.68,389.94 557.98,389.57 554.47,397.46 540.8,392.62 527.13,397.46 523.62,389.57 505.92,389.94 514.8,382.94" fill="#f0485a"/>
<text x="542.6" y="386" font-size="15" text-anchor="middle" fill="#5a0000" fill-opacity=".4">LEMP</text>
<text x="541.8" y="385.2" font-size="15" text-anchor="middle" fill="#fff" stroke="#fff" stroke-width="0.12">LEMP</text>
<rect x="300" y="87" width="61" height="29" rx="5" fill="#f01212"/>
<text x="304" y="107" font-size="17" fill="#fff" stroke="#fff" stroke-width="0.05" letter-spacing="0.55">LPZ0</text>
<text x="347.43" y="112.5" font-size="17" fill="#fff" stroke="#fff" stroke-width="0.05">A</text>
<rect x="453" y="131" width="61" height="30" rx="5" fill="#f01212"/>
<text x="457.7" y="151" font-size="17" fill="#fff" stroke="#fff" stroke-width="0.05" letter-spacing="0.55">LPZ0</text>
<text x="501.13" y="156.5" font-size="17" fill="#fff" stroke="#fff" stroke-width="0.05">B</text>
<rect x="276" y="254" width="53" height="25" rx="5" fill="#f01212"/>
<text x="283" y="272" font-size="16" fill="#fff" stroke="#fff" stroke-width="0.05" letter-spacing="0.55">LPZ1</text>
<rect x="34" y="337.5" width="61.5" height="29.5" rx="5" fill="#f01212"/>
<text x="38.7" y="357" font-size="17" fill="#fff" stroke="#fff" stroke-width="0.05" letter-spacing="0.55">LPZ0</text>
<text x="82.13" y="362.5" font-size="17" fill="#fff" stroke="#fff" stroke-width="0.05">A</text>
<rect x="86" y="447" width="61.5" height="28.5" rx="5" fill="#f01212"/>
<text x="91" y="466" font-size="17" fill="#fff" stroke="#fff" stroke-width="0.05" letter-spacing="0.55">LPZ0</text>
<text x="134.43" y="471.5" font-size="17" fill="#fff" stroke="#fff" stroke-width="0.05">B</text>
<rect x="876.5" y="259.5" width="61.5" height="29.5" rx="5" fill="#f01212"/>
<text x="881.5" y="278.8" font-size="17" fill="#fff" stroke="#fff" stroke-width="0.05" letter-spacing="0.55">LPZ0</text>
<text x="924.93" y="284.3" font-size="17" fill="#fff" stroke="#fff" stroke-width="0.05">A</text>
<rect x="855" y="405" width="60" height="29" rx="5" fill="#f01212"/>
<text x="859.5" y="424.5" font-size="17" fill="#fff" stroke="#fff" stroke-width="0.05" letter-spacing="0.55">LPZ0</text>
<text x="902.93" y="430" font-size="17" fill="#fff" stroke="#fff" stroke-width="0.05">B</text>
<rect x="361" y="383" width="53" height="26" rx="5" fill="#f01212"/>
<text x="367.3" y="402" font-size="17" fill="#fff" stroke="#fff" stroke-width="0.05" letter-spacing="0.55">LPZ3</text>
<rect x="631" y="334.5" width="53.5" height="25.5" rx="5" fill="#f01212"/>
<text x="637.5" y="353.8" font-size="16.5" fill="#fff" stroke="#fff" stroke-width="0.05" letter-spacing="0.55">LPZ2</text>
<rect x="505" y="450.5" width="53" height="25.2" rx="5" fill="#f01212"/>
<text x="511" y="468.8" font-size="16.5" fill="#fff" stroke="#fff" stroke-width="0.05" letter-spacing="0.55">LPZ2</text>
<rect x="565" y="570" width="53" height="26" rx="5" fill="#f01212"/>
<text x="572" y="589" font-size="16" fill="#fff" stroke="#fff" stroke-width="0.05" letter-spacing="0.55">LPZ1</text>
<text y="163.7" font-size="10.6" fill="#111"><tspan x="211.53">接闪器</tspan><tspan x="245.8">–</tspan><tspan x="254.13">避雷带</tspan></text>
<text x="418.4" y="321.2" font-size="11.4" fill="#111" letter-spacing="0.2">空间屏蔽</text>
<path d="M465 324.5H417.8L403 337.5" fill="none" stroke="#111" stroke-width="1.1"/>
<text x="239.65" y="360.4" font-size="11.2" fill="#111" letter-spacing="0.3">通风管道</text>
<text font-size="10.4" fill="#111"><tspan x="145.3" y="359.15">引</tspan><tspan x="145.3" y="370.15">下</tspan><tspan x="145.3" y="381.15">线</tspan></text>
<text x="652.1" y="377.4" font-size="11" fill="#111" letter-spacing="0.2">终端</text>
<text y="572.6" font-size="11" fill="#111"><tspan x="40">L.V.</tspan><tspan x="59.87" letter-spacing="0.3">供电系统</tspan></text>
<text y="611" font-size="11" fill="#111"><tspan x="46">IT</tspan><tspan x="56.08" letter-spacing="0.3">信号系统</tspan></text>
<text x="805.1" y="620.8" font-size="11.2" fill="#111" letter-spacing="0.2">基础接地装置</text>
<path d="M734 602L768 623.8H874" fill="none" stroke="#111" stroke-width="1.4"/>
<text x="747.15" y="643.6" font-size="11.2" fill="#111" letter-spacing="0.3">地网钢筋结构和接地系统</text>
<path d="M699 622.5L743 646.3H874" fill="none" stroke="#111" stroke-width="1.4"/>
<rect x="43.8" y="674.8" width="16.4" height="31.4" fill="#f01616" stroke="#8a0f0f" stroke-width="1.6"/>
<polygon points="55.92,680.01 50.87,680.76 46.55,693.7 51.12,693.44 50.34,701.82 57.71,688.36 52.88,688.62" fill="#fff"/>
<rect x="43.8" y="727.8" width="16.4" height="29.4" fill="#ee1070" stroke="#7a0a3a" stroke-width="1.6"/>
<polygon points="50.29,731.65 53.71,731.65 53.71,742.5 57.58,742.5 52,753.66 46.42,742.5 50.29,742.5" fill="#fff"/>
<rect x="311.3" y="674.8" width="16.9" height="31.4" fill="#1010e2" stroke="#0a0a70" stroke-width="1.6"/>
<polygon points="323.78,680.01 318.58,680.76 314.14,693.7 318.84,693.44 318.05,701.82 325.61,688.36 320.66,688.62" fill="#fff"/>
<rect x="311.3" y="727.8" width="16.9" height="28.9" fill="#0c0cd8" stroke="#0a0a60" stroke-width="1.6"/>
<polygon points="317.99,731.58 321.51,731.58 321.51,742.25 325.49,742.25 319.75,753.23 314.01,742.25 317.99,742.25" fill="#fff"/>
<text x="67.28" y="688" font-size="14" fill="#111" letter-spacing="0.55">基础地网钢筋结构等电位连接</text>
<text y="706.4" font-size="14" fill="#111"><tspan x="67.28" letter-spacing="0.55">电源类防雷器（</tspan><tspan x="170.81">SPD</tspan><tspan x="200.15">，</tspan><tspan x="214.42">1</tspan><tspan x="222.76">级</tspan><tspan x="239.27">）</tspan></text>
<text x="67.28" y="739.5" font-size="14" fill="#111" letter-spacing="0.55">本地等电位连接</text>
<text y="754.6" font-size="14" fill="#111"><tspan x="67.28" letter-spacing="0.55">防雷器（</tspan><tspan x="127.16">SPD2</tspan><tspan x="164.28">级</tspan><tspan x="178.83">，</tspan><tspan x="193.11">SPD3</tspan><tspan x="230.23">级</tspan><tspan x="246.74">）</tspan></text>
<text x="335.27" y="688" font-size="14" fill="#111" letter-spacing="0.55">基础地网钢筋结构等电位连接</text>
<text x="335.27" y="706.4" font-size="14" fill="#111" letter-spacing="0.55">信号类防雷器</text>
<text x="335.27" y="739.5" font-size="14" fill="#111" letter-spacing="0.55">本地等电位连接</text>
<text y="754.6" font-size="14" fill="#111"><tspan x="335.27" letter-spacing="0.55">防雷器（</tspan><tspan x="395.16">SPD</tspan><tspan x="424.5">，</tspan><tspan x="438.77">1</tspan><tspan x="447.11">级</tspan><tspan x="463.62">）</tspan></text>
<polygon points="579.24,686.64 599.34,683.08 596.11,672.82 616.77,676.48 628.2,668.04 639.63,676.48 660.29,672.82 657.06,683.08 676.7,686.64 660.29,693.24 671.26,702.79 649.41,702.28 645.07,713.05 628.2,706.45 611.33,713.05 606.99,702.28 585.14,702.79 596.11,693.24" fill="#f80f0f"/>
<text x="629" y="697.2" font-size="16.5" fill="#fff" text-anchor="middle" textLength="48.5" lengthAdjust="spacingAndGlyphs">LEMP</text>
<text x="686.2" y="696" font-size="14" fill="#111" letter-spacing="0.4">雷电电磁脉冲</text>
<rect x="805" y="678" width="45.5" height="25" rx="5" fill="#f01212"/>
<text x="812.7" y="696.4" font-size="17" fill="#fff" stroke="#fff" stroke-width="0.05" letter-spacing="0.55">LPZ</text>
<text x="856.15" y="696" font-size="14" fill="#111" letter-spacing="0.3">防雷分区</text>
<polygon points="589.8,744.67 596.9,738.84 594.6,732.16 608.4,729.87 615,724.63 628.7,726.39 642,724.63 649.1,729.87 662.4,732.16 660.2,738.84 666.8,744.67 658,748.14 654,755.93 640.3,755.08 628.3,760 616.3,755.08 602.6,755.93 599.5,748.14" fill="#fff31a" stroke="#e8501a" stroke-width="1.3" stroke-linejoin="miter"/>
<text x="628.8" y="748" font-size="15.8" fill="#e4341a" text-anchor="middle" textLength="50.7" lengthAdjust="spacingAndGlyphs">SEMP</text>
<text y="746" font-size="14" fill="#111"><tspan x="686.05" letter-spacing="0.1">交变电磁脉冲（</tspan><tspan x="786.71" letter-spacing="0.1">操作过电压</tspan><tspan x="859.17">）</tspan></text>
</svg>
</body>
</html>
